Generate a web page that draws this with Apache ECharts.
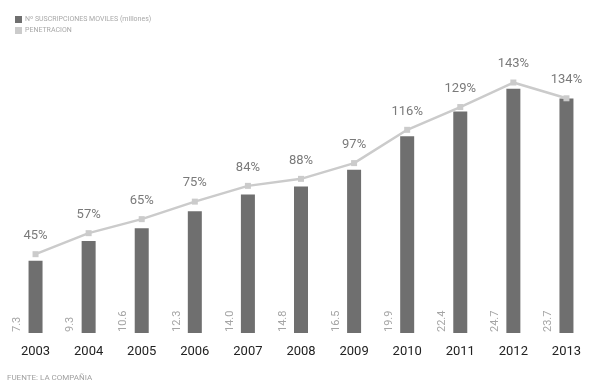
<!DOCTYPE html>
<html>
<head>
<meta charset="utf-8">
<script src="https://cdn.jsdelivr.net/npm/echarts@6/dist/echarts.min.js"></script>
<style>
  html, body { margin: 0; padding: 0; background: #ffffff; }
  #chart { width: 593px; height: 390px; }
</style>
</head>
<body>
<div id="chart"></div>
<script>
// Años
const years = ['2003', '2004', '2005', '2006', '2007', '2008', '2009', '2010', '2011', '2012', '2013'];
// Nº de suscripciones móviles (millones)
const subscriptions = [7.3, 9.3, 10.6, 12.3, 14.0, 14.8, 16.5, 19.9, 22.4, 24.7, 23.7];
// Penetración (%)
const penetration = [45, 57, 65, 75, 84, 88, 97, 116, 129, 143, 134];

const legendNames = ['Nº SUSCRIPCIONES MOVILES (millones)', 'PENETRACION'];
const sourceText = 'FUENTE: LA COMPAÑIA';

const FONT = 'Roboto, "DejaVu Sans", sans-serif';
const BAR_COLOR = '#6f6f6f';
const LINE_COLOR = '#cbcbcb';

const chart = echarts.init(document.getElementById('chart'), null, { renderer: 'canvas' });

chart.setOption({
  animation: false,
  backgroundColor: '#ffffff',
  textStyle: { fontFamily: FONT },
  legend: {
    orient: 'vertical',
    left: 10,
    top: 11,
    itemWidth: 7,
    itemHeight: 7,
    itemGap: 4,
    icon: 'rect',
    textStyle: { fontSize: 7, color: '#a8a8a8', fontFamily: FONT, padding: [0, 0, 0, -2] },
    data: [
      { name: legendNames[0], itemStyle: { color: BAR_COLOR } },
      { name: legendNames[1], itemStyle: { color: LINE_COLOR } }
    ]
  },
  graphic: [{
    type: 'text',
    left: 7,
    top: 374,
    style: { text: sourceText, fontSize: 8, fill: '#a0a0a0', fontFamily: FONT }
  }],
  grid: { left: 9, right: -7, top: 58, bottom: 57 },
  xAxis: {
    type: 'category',
    data: years,
    boundaryGap: true,
    axisLine: { show: false },
    axisTick: { show: false },
    axisLabel: { color: '#222222', fontSize: 13, margin: 12, fontFamily: FONT }
  },
  yAxis: [
    { type: 'value', min: 0, max: 27.8, show: false, splitLine: { show: false } },
    { type: 'value', min: 0, max: 157, show: false, splitLine: { show: false } }
  ],
  series: [
    {
      name: legendNames[0],
      type: 'bar',
      yAxisIndex: 0,
      data: subscriptions,
      barWidth: 14,
      itemStyle: { color: BAR_COLOR },
      label: {
        show: true,
        position: 'insideBottom',
        distance: 1,
        rotate: 90,
        align: 'left',
        verticalAlign: 'middle',
        offset: [0, -18],
        color: '#a5a5a5',
        fontSize: 11,
        fontFamily: FONT,
        formatter: p => p.value.toFixed(1)
      }
    },
    {
      name: legendNames[1],
      type: 'line',
      yAxisIndex: 1,
      data: penetration,
      symbol: 'rect',
      symbolSize: 6,
      lineStyle: { color: LINE_COLOR, width: 2.5 },
      itemStyle: { color: LINE_COLOR },
      label: {
        show: true,
        position: 'top',
        distance: 9,
        color: '#7a7a7a',
        fontSize: 13,
        fontFamily: FONT,
        formatter: p => p.value + '%'
      }
    }
  ]
});
</script>
</body>
</html>
